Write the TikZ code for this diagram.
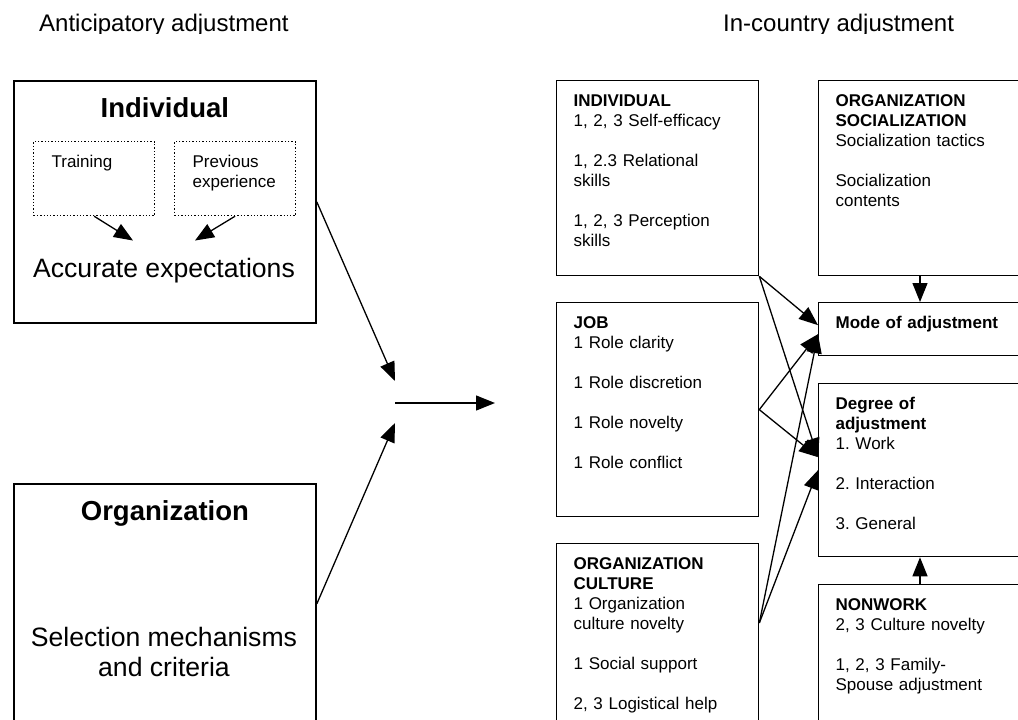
\documentclass[tikz,border=0pt]{standalone}
\usepackage{fontspec}
\setmainfont{Liberation Sans}
\usetikzlibrary{arrows.meta}

\tikzset{
	every box/.style={draw, line width=1.3pt, anchor=north west, align=left,
		inner xsep=17pt, inner ysep=13pt, text height=13pt,
		font=\fontsize{17}{20}\selectfont\frenchspacing},
	box right/.style={every box/.try, text width=168pt},
	box open/.style={every box/.try, text width=250pt},
	box left/.style={draw, line width=1.8pt, anchor=north west, align=center,
		text width=302pt, inner xsep=0pt, inner ysep=17pt, text height=20pt,
		font=\fontsize{27.5}{30}\selectfont\bfseries},
	box dotted/.style={every box/.try, dotted, line width=1.2pt,
		text width=85pt, inner xsep=18pt, text depth=35pt},
	big text/.style={font=\fontsize{26.6}{30}\selectfont, align=center,
		anchor=base, inner sep=0pt},
	heading/.style={font=\fontsize{24}{28}\selectfont, anchor=base west,
		inner sep=0pt},
	link/.style={->, line width=1.3pt},
}

\begin{document}
\begin{tikzpicture}[x=1pt, y=-1pt, >={Triangle[length=19pt, width=15pt]}]

		\useasboundingbox (0,0) rectangle (1018,720);

		% Headings
		\begin{scope}
			\clip (0,0) rectangle (1018,33);
			\node [heading] (ant-title) at (39,31) {Anticipatory adjustment};
			\node [heading] (inc-title) at (723,31) {In-country adjustment};
		\end{scope}

		% Anticipatory: individual
		\node [box left, text depth=188pt] (ant-ind) at (13,80) {Individual};
		\node [box dotted] (train) at (33,141) {Training};
		\node [box dotted] (prev) at (174,141) {Previous\\experience};
		\node [big text] (acc) at (164,277) {Accurate expectations};
		\draw [link] (train.south) -- ([shift={(-31pt,17pt)}]acc.north);
		\draw [link] (prev.south) -- ([shift={(31pt,17pt)}]acc.north);

		% Anticipatory: organization
		\node [box left, text depth=186pt] (ant-org) at (13,483) {Organization};
		\node [big text] (sel) at (164,676) {Selection mechanisms\\and criteria};

		% Join
		\coordinate (hub) at (395,403);
		\coordinate (hub-out) at (495,403);
		\draw [link] (ant-ind.east) -- ([yshift=22pt]hub);
		\draw [link] (ant-org.east) -- ([yshift=-20pt]hub);
		\draw [link] (hub) -- (hub-out);

		% In-country: antecedents
		\node [box right, text depth=156pt] (ind) at (556,80) {
			\textbf{INDIVIDUAL}\\
			1, 2, 3 Self-efficacy\\[20pt]
			1, 2.3 Relational\\skills\\[20pt]
			1, 2, 3 Perception\\skills
		};
		\node [box right, text depth=175pt] (job) at (556,302) {
			\textbf{JOB}\\
			1 Role clarity\\[20pt]
			1 Role discretion\\[20pt]
			1 Role novelty\\[20pt]
			1 Role conflict
		};
		\node [box right, text depth=161pt] (orgc) at (556,543) {
			\textbf{ORGANIZATION}\\\textbf{CULTURE}\\
			1 Organization\\culture novelty\\[20pt]
			1 Social support\\[20pt]
			2, 3 Logistical help
		};

		% In-country: outcomes (cut by the right margin)
		\node [box open, text depth=156pt] (soc) at (818,80) {
			\textbf{ORGANIZATION}\\\textbf{SOCIALIZATION}\\
			Socialization tactics\\[20pt]
			Socialization\\contents
		};
		\node [box open, text depth=14pt] (mode) at (818,302) {
			\textbf{Mode of adjustment}
		};
		\node [box open, text depth=134pt] (deg) at (818,383) {
			\textbf{Degree of}\\\textbf{adjustment}\\
			1. Work\\[20pt]
			2. Interaction\\[20pt]
			3. General
		};
		\node [box open, text depth=120pt] (nonw) at (818,584) {
			\textbf{NONWORK}\\
			2, 3 Culture novelty\\[20pt]
			1, 2, 3 Family-\\Spouse adjustment
		};

		\coordinate (col) at (920,0);
		\draw [link] (soc.south -| col) -- (mode.north -| col);
		\draw [link] (nonw.north -| col) -- (deg.south -| col);

		\foreach \src/\dy in {ind.south east/4pt, job.east/-5pt}
			\draw [link] (\src) -- ([yshift=\dy]mode.west);
		\foreach \src in {ind.south east, job.east}
			\draw [link] (\src) -- ([yshift=13pt]deg.west);
		\draw [link] ([yshift=-80pt]orgc.north east) -- ([yshift=-5pt]mode.west);
		\draw [link] ([yshift=-80pt]orgc.north east) -- (deg.west);

	\end{tikzpicture}
\end{document}
